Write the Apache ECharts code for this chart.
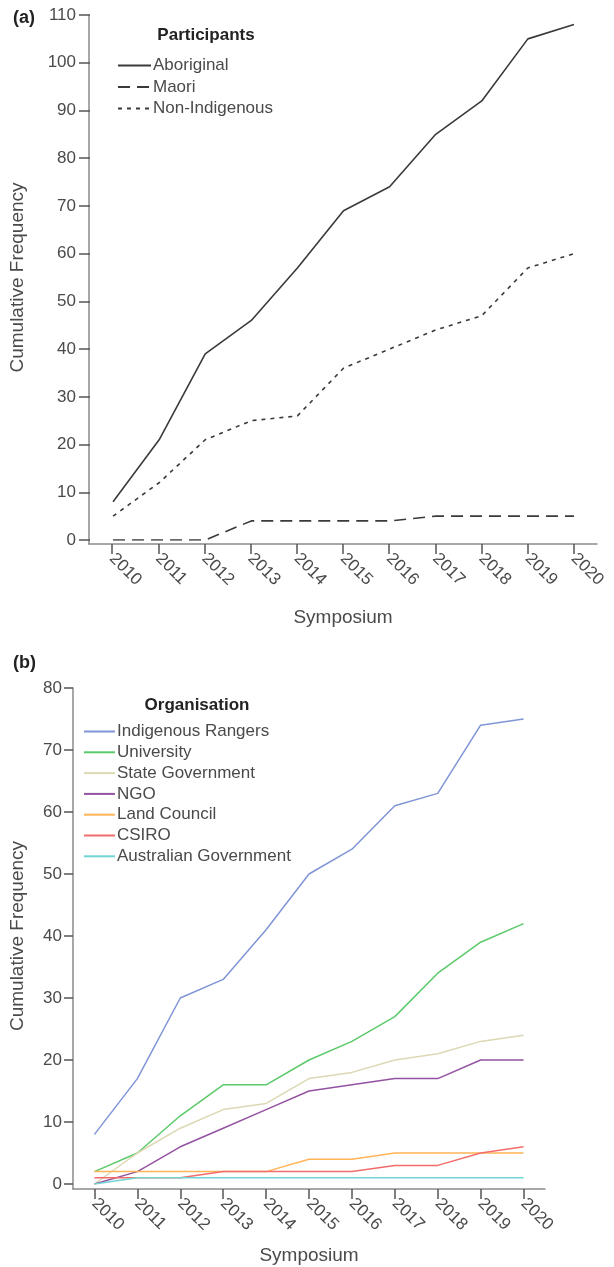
<!DOCTYPE html>
<html>
<head>
<meta charset="utf-8">
<script src="https://cdn.jsdelivr.net/npm/echarts@6/dist/echarts.min.js"></script>
<style>
html,body{margin:0;padding:0;background:#fff;}
#c{width:614px;height:1267px;}
</style>
</head>
<body>
<div id="c"></div>
<script>
const years = ['2010','2011','2012','2013','2014','2015','2016','2017','2018','2019','2020'];
const aboriginal    = [8, 21, 39, 46, 57, 69, 74, 85, 92, 105, 108];
const maori         = [0, 0, 0, 4, 4, 4, 4, 5, 5, 5, 5];
const nonIndigenous = [5, 12, 21, 25, 26, 36, 40, 44, 47, 57, 60];

const indigenousRangers = [8, 17, 30, 33, 41, 50, 54, 61, 63, 74, 75];
const university        = [2, 5, 11, 16, 16, 20, 23, 27, 34, 39, 42];
const stateGovernment   = [0, 5, 9, 12, 13, 17, 18, 20, 21, 23, 24];
const ngo               = [0, 2, 6, 9, 12, 15, 16, 17, 17, 20, 20];
const landCouncil       = [2, 2, 2, 2, 2, 4, 4, 5, 5, 5, 5];
const csiro             = [1, 1, 1, 2, 2, 2, 2, 3, 3, 5, 6];
const ausGovernment     = [0, 1, 1, 1, 1, 1, 1, 1, 1, 1, 1];

const FONT = 'Liberation Sans';
const TXT = '#4a4a4a';
const AX = '#8a8a8a';

const chart = echarts.init(document.getElementById('c'), null, {renderer: 'canvas'});

function hiddenX(gi){
  return {type:'category', gridIndex:gi, data:years, boundaryGap:true, show:false};
}
function visibleX(gi, gap){
  return {
    type:'category', gridIndex:gi, data:years, boundaryGap:true,
    axisLine:{show:true, lineStyle:{color:AX, width:1.5}},
    axisTick:{show:true, alignWithLabel:true, length:10, lineStyle:{color:'#555', width:1.5}},
    axisLabel:{rotate:-45, fontSize:17, color:TXT, fontFamily:FONT, margin:12, interval:0},
    name:'Symposium', nameLocation:'middle', nameGap:gap,
    nameTextStyle:{fontSize:19, color:TXT, fontFamily:FONT},
    splitLine:{show:false}
  };
}
function valueY(gi, max, gap, tick, margin){
  return {
    type:'value', gridIndex:gi, min:0, max:max, interval:10,
    axisLine:{show:false},
    axisTick:{show:true, length:tick, lineStyle:{color:'#555', width:1.5}},
    axisLabel:{fontSize:17, color:TXT, fontFamily:FONT, margin:margin},
    splitLine:{show:false},
    name:'Cumulative Frequency', nameLocation:'middle', nameGap:gap,
    nameTextStyle:{fontSize:19, color:TXT, fontFamily:FONT}
  };
}
function lineY(gi){
  return {
    type:'value', gridIndex:gi, min:0, max:1,
    axisLine:{show:true, lineStyle:{color:AX, width:1.5}},
    axisTick:{show:false}, axisLabel:{show:false}, splitLine:{show:false}
  };
}
function ser(name, data, xi, yi, color, type, width){
  return {
    name:name, type:'line', data:data, xAxisIndex:xi, yAxisIndex:yi,
    symbol:'none', smooth:false,
    lineStyle:{color:color, width:width, type:type},
    itemStyle:{color:color}
  };
}

const DARK = '#3a3a3a';
const C = {
  rangers:'#7f95d6', uni:'#5cc96a', state:'#dcd8b4', ngo:'#9452a2',
  land:'#ffb458', csiro:'#f26c6c', aus:'#72d4d4'
};
const HIDE_SYM = {color:'rgba(0,0,0,0)', borderColor:'rgba(0,0,0,0)', borderWidth:0};

const option = {
  animation:false,
  backgroundColor:'#fff',
  textStyle:{fontFamily:FONT},
  title:[
    {text:'(a)', left:8, top:4, textStyle:{fontSize:18, fontWeight:'bold', color:'#222', fontFamily:FONT}},
    {text:'(b)', left:8, top:649, textStyle:{fontSize:18, fontWeight:'bold', color:'#222', fontFamily:FONT}},
    {text:'Participants', left:201, top:22, textAlign:'center', textStyle:{fontSize:17, fontWeight:'bold', color:'#222', fontFamily:FONT}},
    {text:'Organisation', left:192, top:692, textAlign:'center', textStyle:{fontSize:17, fontWeight:'bold', color:'#222', fontFamily:FONT}}
  ],
  legend:[
    {
      orient:'vertical', left:117, top:57, padding:0, itemWidth:33, itemHeight:14, itemGap:4.5,
      itemStyle:HIDE_SYM,
      textStyle:{fontSize:17, color:TXT, fontFamily:FONT, padding:[0,0,0,-3]},
      data:['Aboriginal','Maori','Non-Indigenous']
    },
    {
      orient:'vertical', left:83, top:723, padding:0, itemWidth:31, itemHeight:13, itemGap:3.8,
      itemStyle:HIDE_SYM,
      textStyle:{fontSize:17, color:TXT, fontFamily:FONT, padding:[0,0,0,-3]},
      data:['Indigenous Rangers','University','State Government','NGO','Land Council','CSIRO','Australian Government']
    }
  ],
  grid:[
    {left:89, top:15, width:508, height:525},
    {left:89, top:15, width:508, height:529},
    {left:73, top:688, width:472, height:496},
    {left:73, top:688, width:472, height:501}
  ],
  xAxis:[hiddenX(0), visibleX(1, 64), hiddenX(2), visibleX(3, 57)],
  yAxis:[valueY(0, 110, 63, 11, 14), lineY(1), valueY(2, 80, 46, 9, 11), lineY(3)],
  series:[
    ser('Aboriginal', aboriginal, 0, 0, DARK, 'solid', 1.6),
    ser('Maori', maori, 0, 0, DARK, [12,7], 1.6),
    ser('Non-Indigenous', nonIndigenous, 0, 0, DARK, [4,5], 1.6),
    ser('Indigenous Rangers', indigenousRangers, 2, 2, C.rangers, 'solid', 1.5),
    ser('University', university, 2, 2, C.uni, 'solid', 1.5),
    ser('State Government', stateGovernment, 2, 2, C.state, 'solid', 1.5),
    ser('NGO', ngo, 2, 2, C.ngo, 'solid', 1.5),
    ser('Land Council', landCouncil, 2, 2, C.land, 'solid', 1.5),
    ser('CSIRO', csiro, 2, 2, C.csiro, 'solid', 1.5),
    ser('Australian Government', ausGovernment, 2, 2, C.aus, 'solid', 1.5)
  ]
};
chart.setOption(option);
</script>
</body>
</html>
